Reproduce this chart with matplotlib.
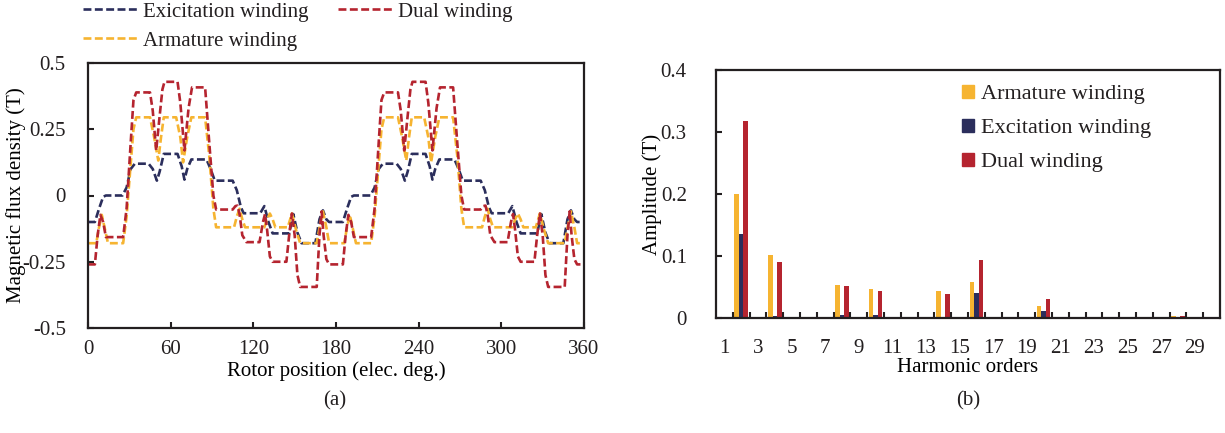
import matplotlib
matplotlib.use("Agg")
import matplotlib.pyplot as plt
from matplotlib.patches import Patch

plt.rcParams['font.family'] = ['Liberation Serif', 'DejaVu Serif']
plt.rcParams['font.size'] = 15
plt.rcParams['axes.unicode_minus'] = False
plt.rcParams['text.color'] = '#231f20'
plt.rcParams['xtick.color'] = '#231f20'
plt.rcParams['ytick.color'] = '#231f20'

NAVY = '#2b2e5c'
RED = '#b5242f'
ORANGE = '#f6b431'

# (a) air-gap flux density waveforms
exc_deg = [0, 5, 8, 11, 13, 25, 28, 31, 34, 44, 47, 50, 52, 55, 65, 68, 70, 72, 75, 86,
           89, 92, 105, 108, 111, 113, 125, 128, 131, 134, 146, 149, 152, 155, 165, 168, 170.5, 173, 175,
           185, 188, 191, 193, 205, 208, 211, 214, 224, 227, 230, 232, 235, 245, 248, 250, 252, 255, 266,
           269, 272, 285, 288, 291, 293, 305, 308, 311, 314, 326, 329, 332, 335, 345, 348, 350.5, 353, 355, 360]
exc_flux = [-0.10, -0.10, -0.05, -0.005, 0.0, 0.0, 0.03, 0.10, 0.12, 0.12, 0.10, 0.056, 0.09, 0.157, 0.157, 0.11, 0.06, 0.10, 0.136, 0.136,
            0.10, 0.056, 0.056, 0.02, -0.045, -0.067, -0.067, -0.04, -0.10, -0.143, -0.143, -0.07, -0.14, -0.18, -0.18, -0.09, -0.056, -0.09, -0.10,
            -0.10, -0.05, -0.005, 0.0, 0.0, 0.03, 0.10, 0.12, 0.12, 0.10, 0.056, 0.09, 0.157, 0.157, 0.11, 0.06, 0.10, 0.136, 0.136,
            0.10, 0.056, 0.056, 0.02, -0.045, -0.067, -0.067, -0.04, -0.10, -0.143, -0.143, -0.07, -0.14, -0.18, -0.18, -0.09, -0.056, -0.09, -0.10, -0.10]

arm_deg = [0, 6, 8, 10, 12, 14.5, 25.5, 28, 31, 33, 35, 45, 48, 51, 53, 55, 64, 67, 69, 72, 75, 85,
           88, 91, 93, 106, 108, 110, 112, 114, 128, 130, 132, 134, 136, 145, 148, 151, 154, 166, 168.5, 170.5, 173, 175,
           186, 188, 190, 192, 194.5, 205.5, 208, 211, 213, 215, 225, 228, 231, 233, 235, 244, 247, 249, 252, 255, 265,
           268, 271, 273, 286, 288, 290, 292, 294, 308, 310, 312, 314, 316, 325, 328, 331, 334, 346, 348.5, 350.5, 353, 355, 360]
arm_flux = [-0.18, -0.18, -0.12, -0.073, -0.12, -0.18, -0.18, -0.08, 0.12, 0.25, 0.295, 0.295, 0.22, 0.132, 0.22, 0.295, 0.295, 0.22, 0.125, 0.22, 0.295, 0.295,
            0.15, -0.05, -0.12, -0.12, -0.08, -0.05, -0.09, -0.12, -0.12, -0.09, -0.068, -0.09, -0.12, -0.12, -0.068, -0.13, -0.18, -0.18, -0.11, -0.06, -0.12, -0.18,
            -0.18, -0.12, -0.073, -0.12, -0.18, -0.18, -0.08, 0.12, 0.25, 0.295, 0.295, 0.22, 0.132, 0.22, 0.295, 0.295, 0.22, 0.125, 0.22, 0.295, 0.295,
            0.15, -0.05, -0.12, -0.12, -0.08, -0.05, -0.09, -0.12, -0.12, -0.09, -0.068, -0.09, -0.12, -0.12, -0.068, -0.13, -0.18, -0.18, -0.11, -0.06, -0.12, -0.18, -0.18]

dual_deg = [0, 5, 7, 9, 11, 13, 25.5, 28, 31, 33, 35, 45, 47, 49.5, 52, 54, 55.5, 65, 67, 70, 73, 75.5, 85,
            88, 91, 93, 105, 107, 108.5, 110, 112, 115, 124.5, 127, 128.5, 130, 132, 134, 144, 146, 148, 150, 152, 154,
            166, 168, 169.6, 171, 173, 175,
            185, 187, 189, 191, 193, 205.5, 208, 211, 213, 215, 225, 227, 229.5, 232, 234, 235.5, 245, 247, 250, 253, 255.5, 265,
            268, 271, 273, 285, 287, 288.5, 290, 292, 295, 304.5, 307, 308.5, 310, 312, 314, 324, 326, 328, 330, 332, 334,
            346, 348, 349.6, 351, 353, 355, 360]
dual_flux = [-0.26, -0.26, -0.15, -0.073, -0.10, -0.157, -0.157, -0.05, 0.20, 0.36, 0.389, 0.389, 0.32, 0.17, 0.30, 0.40, 0.429, 0.429, 0.35, 0.17, 0.33, 0.408, 0.408,
             0.20, 0.0, -0.053, -0.053, -0.04, -0.038, -0.07, -0.15, -0.176, -0.176, -0.10, -0.07, -0.13, -0.23, -0.25, -0.25, -0.15, -0.068, -0.15, -0.30, -0.345,
             -0.345, -0.15, -0.06, -0.15, -0.24, -0.26,
             -0.26, -0.15, -0.073, -0.10, -0.157, -0.157, -0.05, 0.20, 0.36, 0.389, 0.389, 0.32, 0.17, 0.30, 0.40, 0.429, 0.429, 0.35, 0.17, 0.33, 0.408, 0.408,
             0.20, 0.0, -0.053, -0.053, -0.04, -0.038, -0.07, -0.15, -0.176, -0.176, -0.10, -0.07, -0.13, -0.23, -0.25, -0.25, -0.15, -0.068, -0.15, -0.30, -0.345,
             -0.345, -0.15, -0.06, -0.15, -0.24, -0.26, -0.26]

# (b) harmonic amplitudes
orders = [2, 4, 8, 10, 14, 16, 20, 22, 26, 28]
arm_amp = [0.200, 0.102, 0.054, 0.046, 0.044, 0.058, 0.019, 0.002, 0.002, 0.004]
exc_amp = [0.136, 0.004, 0.005, 0.005, 0.001, 0.040, 0.012, 0.001, 0.0, 0.0]
dual_amp = [0.318, 0.091, 0.052, 0.043, 0.039, 0.093, 0.031, 0.002, 0.002, 0.004]
order_ticks = list(range(1, 30, 2))

fig = plt.figure(figsize=(12.25, 4.33), dpi=100)
W, H = 1225, 433

# ---- left panel ----
ax1 = fig.add_axes([88 / W, 1 - 328 / H, 496 / W, 265 / H])
lw = 1.9
ax1.plot(exc_deg, exc_flux, color=NAVY, lw=lw, dashes=(3, 1.3), label='Exicitation winding')
ax1.plot(arm_deg, arm_flux, color=ORANGE, lw=lw, dashes=(3, 1.3), label='Armature winding')
ax1.plot(dual_deg, dual_flux, color=RED, lw=lw, dashes=(3, 1.3), label='Dual winding')
ax1.set_xlim(0, 360)
ax1.set_ylim(-0.5, 0.5)
ax1.set_xticks(range(0, 361, 60))
ax1.set_yticks([-0.5, -0.25, 0, 0.25, 0.5])
ax1.set_yticklabels(['-0.5', '-0.25', '0', '0.25', '0.5'])
ax1.tick_params(direction='in', length=4, width=1.5, pad=9)
ax1.tick_params(axis='y', pad=16)
ax1.set_xlabel('Rotor position (elec. deg.)')
ax1.set_ylabel('Magnetic flux density (T)')
ax1.xaxis.set_label_coords(0.5, -0.125)
ax1.yaxis.set_label_coords(-0.125, 0.5)
ax1.legend(loc='upper left', bbox_to_anchor=(83 / W, 1 - 2 / H), bbox_transform=fig.transFigure,
           ncol=2, frameon=False, borderpad=0, handlelength=2.6, handletextpad=0.3,
           columnspacing=1.4, labelspacing=0.45, borderaxespad=0)

# ---- right panel ----
ax2 = fig.add_axes([716 / W, 1 - 318 / H, 504 / W, 248 / H])
bw = 0.27
ax2.bar([o - bw for o in orders], arm_amp, width=bw, color=ORANGE)
ax2.bar(orders, exc_amp, width=bw, color=NAVY)
ax2.bar([o + bw for o in orders], dual_amp, width=bw, color=RED)
ax2.set_xlim(0.5, 30.5)
ax2.set_ylim(0, 0.4)
ax2.set_xticks(order_ticks)
ax2.set_xticks([i + 0.5 for i in range(1, 30)], minor=True)
ax2.set_yticks([0, 0.1, 0.2, 0.3, 0.4])
ax2.set_yticklabels(['0', '0.1', '0.2', '0.3', '0.4'])
ax2.tick_params(axis='x', which='major', length=0, pad=15)
ax2.tick_params(axis='x', which='minor', direction='in', length=4, width=1.5)
ax2.tick_params(axis='y', direction='in', length=4, width=1.5, pad=21)
ax2.set_xlabel('Harmonic orders')
ax2.set_ylabel('Amplitude (T)')
ax2.xaxis.set_label_coords(0.5, -0.16)
ax2.yaxis.set_label_coords(-0.108, 0.5)
handles = [Patch(color=ORANGE), Patch(color=NAVY), Patch(color=RED)]
ax2.legend(handles, ['Armature winding', 'Excitation winding', 'Dual winding'],
           loc='upper left', bbox_to_anchor=(962 / W, 1 - 85 / H), bbox_transform=fig.transFigure,
           frameon=False, borderpad=0, borderaxespad=0, handlelength=0.52, handleheight=0.52,
           handletextpad=0.33, labelspacing=0.66, fontsize=16)

for ax in (ax1, ax2):
    for s in ax.spines.values():
        s.set_linewidth(1.6)
        s.set_color('#231f20')

fig.text(335 / W, 1 - 401 / H, '(a)', ha='center', va='center')
fig.text(968 / W, 1 - 401 / H, '(b)', ha='center', va='center')

fig.savefig('out.png', dpi=100)
